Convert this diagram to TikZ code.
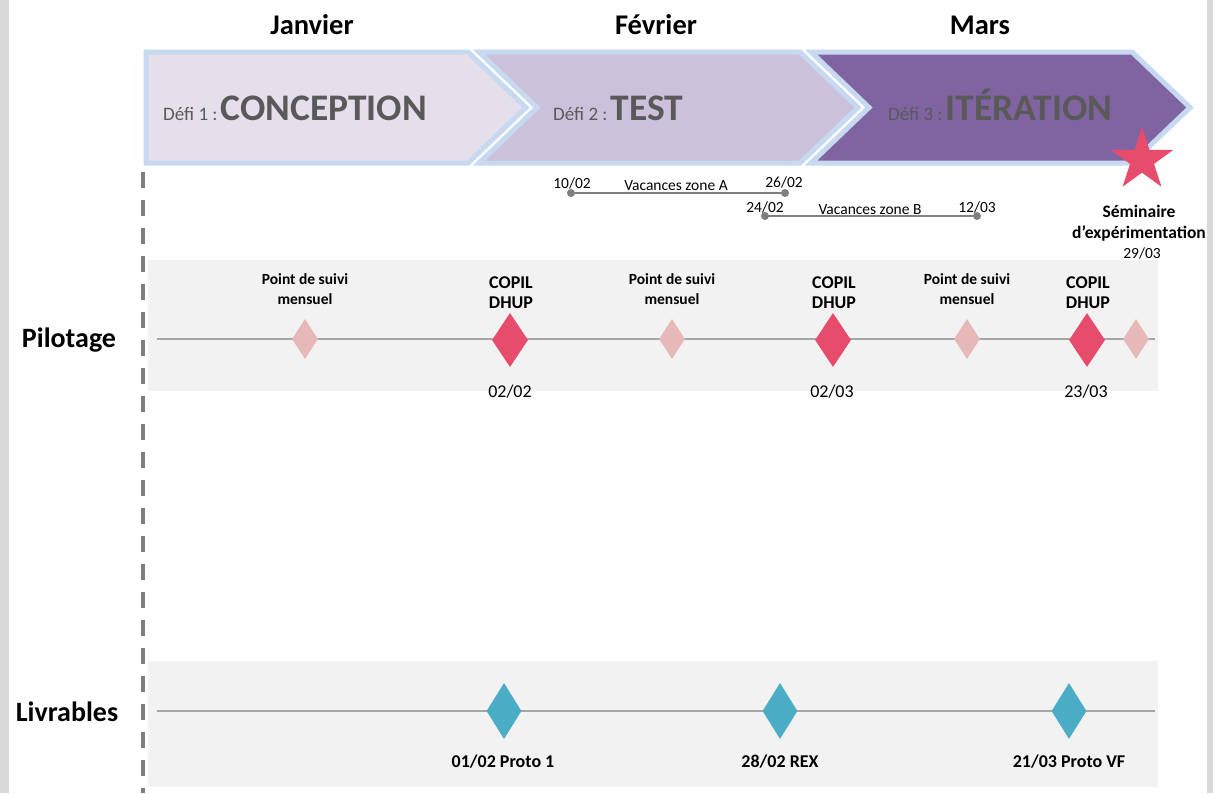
\documentclass[tikz,border=0pt]{standalone}
\usepackage{fontspec}
\setmainfont{Carlito}
\usetikzlibrary{shapes.geometric}
\definecolor{sidegray}{HTML}{D9D9D9}
\definecolor{bandgray}{HTML}{F2F2F2}
\definecolor{linegray}{HTML}{A6A6A6}
\definecolor{dashgray}{HTML}{7F7F7F}
\definecolor{txtgray}{HTML}{595959}
\definecolor{cfillA}{HTML}{E5DFEC}
\definecolor{cfillB}{HTML}{CCC1DA}
\definecolor{cfillC}{HTML}{8064A2}
\definecolor{cedge}{HTML}{C6D9F1}
\definecolor{pinklight}{HTML}{E6B9B8}
\definecolor{pinkred}{HTML}{E84C6D}
\definecolor{tealblue}{HTML}{4BACC6}
\tikzset{
  chev/.style={draw=cedge, line width=5pt, line join=miter},
  month/.style={font=\fontsize{28.5}{30}\selectfont\bfseries, inner sep=0pt},
  rowlabel/.style={font=\fontsize{28}{30}\selectfont\bfseries, inner sep=0pt},
  defitext/.style={text=txtgray, inner sep=0pt, anchor=base west},
  suivi/.style={font=\fontsize{15.5}{20}\selectfont\bfseries, align=center, inner sep=0pt},
  copil/.style={font=\fontsize{18}{20}\selectfont\bfseries, align=center, inner sep=0pt},
  datelbl/.style={font=\fontsize{18}{20}\selectfont, inner sep=0pt},
  vaclbl/.style={font=\fontsize{15.5}{17}\selectfont, inner sep=0pt},
  livlbl/.style={font=\fontsize{18}{20}\selectfont\bfseries, inner sep=0pt},
  smalldiam/.style={diamond, fill=pinklight, minimum width=26pt, minimum height=40pt, inner sep=0pt},
  bigdiam/.style={diamond, fill=pinkred, minimum width=36pt, minimum height=54pt, inner sep=0pt},
  livdiam/.style={diamond, fill=tealblue, minimum width=35pt, minimum height=56pt, inner sep=0pt},
  tline/.style={draw=linegray, line width=2pt},
  vacline/.style={draw=dashgray, line width=2pt},
  vacdot/.style={circle, fill=dashgray, minimum size=8pt, inner sep=0pt},
}
\begin{document}
\begin{tikzpicture}[x=1pt,y=-1pt]
\useasboundingbox (0,0) rectangle (1213,793);
\fill[white] (0,0) rectangle (1213,793);
% side strips
\fill[sidegray] (0,0) rectangle (9,793);
\fill[sidegray] (1207,0) rectangle (1213,793);

% months
\node[month] (jan) at (312,25) {Janvier};
\node[month] (feb) at (656,25) {Février};
\node[month] (mar) at (980,25) {Mars};

% chevrons
\draw[chev, fill=cfillA] (146,52) -- (468,52) -- (526,107.5) -- (468,163) -- (146,163) -- cycle;
\draw[chev, fill=cfillB] (479,52) -- (800,52) -- (858,107.5) -- (800,163) -- (479,163) -- (537,107.5) -- cycle;
\draw[chev, fill=cfillC] (811,52) -- (1132,52) -- (1190,107.5) -- (1132,163) -- (811,163) -- (869,107.5) -- cycle;

\node[defitext] (d1) at (163,120) {\fontsize{19}{20}\selectfont Défi 1 :\,\fontsize{37.5}{38}\selectfont\bfseries CONCEPTION};
\node[defitext] (d2) at (553,120) {\fontsize{19}{20}\selectfont Défi 2 :\,\fontsize{37.5}{38}\selectfont\bfseries TEST};
\node[defitext] (d3) at (888,120) {\fontsize{19}{20}\selectfont Défi 3 :\,\fontsize{37.5}{38}\selectfont\bfseries ITÉRATION};

% star
\node[star, star points=5, star point ratio=2.618, minimum size=66pt, inner sep=0pt, fill=pinkred] (star) at (1142,160) {};
\node[copil, font=\fontsize{17.5}{21}\selectfont\bfseries] (sem) at (1139,223.5) {Séminaire\\d’expérimentation};
\node[vaclbl] (semdate) at (1142,253) {29/03};

% dashed vertical
\coordinate (vtop) at (143,172);
\coordinate (vbot) at (143,793);
\draw[dashgray, line width=3.5pt, dash pattern=on 16pt off 12pt] (vtop) -- (vbot);

% vacances
\node[vacdot] (va1) at (571,193) {};
\node[vacdot] (va2) at (785,193) {};
\draw[vacline] (va1.center) -- (va2.center);
\node[vaclbl] (va1l) at (572,183) {10/02};
\node[vaclbl] (val) at (676,186) {Vacances zone A};
\node[vaclbl] (va2l) at (784,182) {26/02};
\node[vacdot] (vb1) at (765,216) {};
\node[vacdot] (vb2) at (977,216) {};
\draw[vacline] (vb1.center) -- (vb2.center);
\node[vaclbl] (vb1l) at (765,207) {24/02};
\node[vaclbl] (vbl) at (870,210) {Vacances zone B};
\node[vaclbl] (vb2l) at (977,207) {12/03};

% pilotage band
\fill[bandgray] (148,260) rectangle (1158,391);
\node[rowlabel] (pil) at (69,340) {Pilotage};
\coordinate (pl) at (157,339);
\coordinate (pr) at (1155,339);
\draw[tline] (pl) -- (pr);
\node[smalldiam] (ps1) at (305,339) {};
\node[smalldiam] (ps2) at (672,339) {};
\node[smalldiam] (ps3) at (967,339) {};
\node[smalldiam] (ps4) at (1136,339) {};
\node[bigdiam] (pc1) at (510,340) {};
\node[bigdiam] (pc2) at (833,340) {};
\node[bigdiam] (pc3) at (1087,340) {};
\node[suivi] (ls1) at (305,289) {Point de suivi\\mensuel};
\node[suivi] (ls2) at (672,289) {Point de suivi\\mensuel};
\node[suivi] (ls3) at (967,289) {Point de suivi\\mensuel};
\node[copil] (lc1) at (511,293) {COPIL\\DHUP};
\node[copil] (lc2) at (834,293) {COPIL\\DHUP};
\node[copil] (lc3) at (1088,293) {COPIL\\DHUP};
\node[datelbl] (dt1) at (510,392) {02/02};
\node[datelbl] (dt2) at (832,392) {02/03};
\node[datelbl] (dt3) at (1086,392) {23/03};

% livrables band
\fill[bandgray] (148,661) rectangle (1158,787);
\node[rowlabel] (liv) at (67,712) {Livrables};
\coordinate (ll) at (157,711);
\coordinate (lr) at (1155,711);
\draw[tline] (ll) -- (lr);
\node[livdiam] (lv1) at (504,711) {};
\node[livdiam] (lv2) at (780,711) {};
\node[livdiam] (lv3) at (1069,711) {};
\node[livlbl] (lvl1) at (503,762) {01/02 Proto 1};
\node[livlbl] (lvl2) at (780,762) {28/02 REX};
\node[livlbl] (lvl3) at (1069,762) {21/03 Proto VF};
\end{tikzpicture}
\end{document}
